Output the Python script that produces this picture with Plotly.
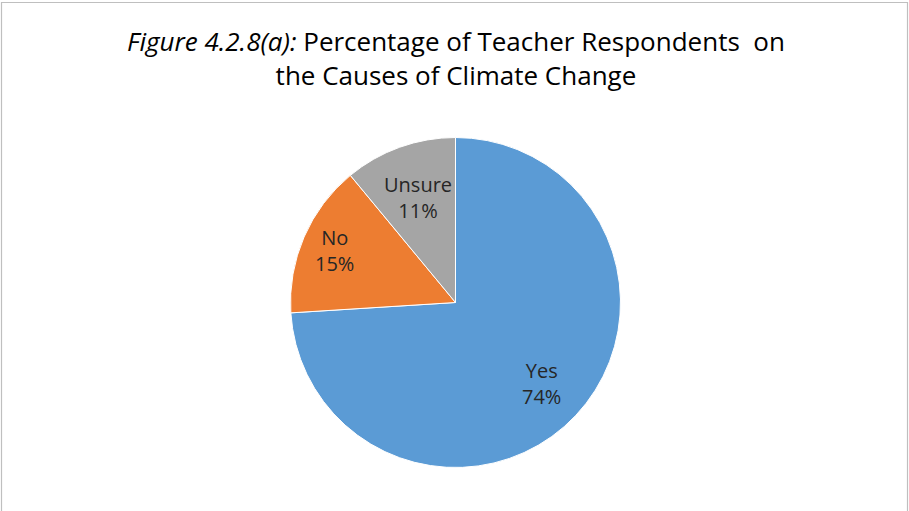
import math
import plotly.graph_objects as go

# Survey responses
categories = ["Yes", "No", "Unsure"]
percentages = [74, 15, 11]
colors = ["#5B9BD5", "#ED7D31", "#A5A5A5"]

W, H = 909, 511
cx, cy, r = 455.5, 302.5, 165.0  # pie centre and radius in pixels
label_frac = [0.715, 0.796, 0.675]  # radial position of each label

fig = go.Figure(
    go.Pie(
        labels=categories,
        values=percentages,
        sort=False,
        direction="clockwise",
        rotation=0,
        marker=dict(colors=colors, line=dict(color="white", width=1)),
        textinfo="none",
        hoverinfo="label+percent",
        showlegend=False,
        domain=dict(
            x=[(cx - r) / W, (cx + r) / W],
            y=[1 - (cy + r) / H, 1 - (cy - r) / H],
        ),
    )
)

# Category labels placed at each slice's mid-angle
total = sum(percentages)
cum = 0
annotations = []
for name, val, f in zip(categories, percentages, label_frac):
    mid = (cum + val / 2) / total * 2 * math.pi
    cum += val
    px = cx + f * r * math.sin(mid)
    py = cy - f * r * math.cos(mid)
    annotations.append(
        dict(
            x=px / W, y=1 - py / H, xref="paper", yref="paper",
            xanchor="center", yanchor="middle",
            text=f"{name}<br>{val}%", showarrow=False,
            font=dict(family="Open Sans, Calibri, sans-serif", size=20, color="#262626"),
            align="center",
        )
    )

title_text = (
    "<i>Figure 4.2.8(a):</i> Percentage of Teacher Respondents&nbsp;&nbsp;on"
    "<br>the Causes of Climate Change"
)
annotations.append(
    dict(
        x=455.5 / W, y=1 - 58 / H, xref="paper", yref="paper",
        xanchor="center", yanchor="middle",
        text=title_text, showarrow=False,
        font=dict(family="Open Sans, Calibri, sans-serif", size=26, color="#000000"),
        align="center",
    )
)

fig.update_layout(
    width=W, height=H,
    margin=dict(l=0, r=0, t=0, b=0),
    paper_bgcolor="white",
    plot_bgcolor="white",
    annotations=annotations,
    shapes=[
        dict(
            type="rect", xref="paper", yref="paper",
            x0=1.5 / W, x1=907.5 / W, y0=-0.05, y1=1 - 2.5 / H,
            line=dict(color="#BFBFBF", width=1.2), fillcolor="rgba(0,0,0,0)",
        )
    ],
)

fig.write_html("out.html")
